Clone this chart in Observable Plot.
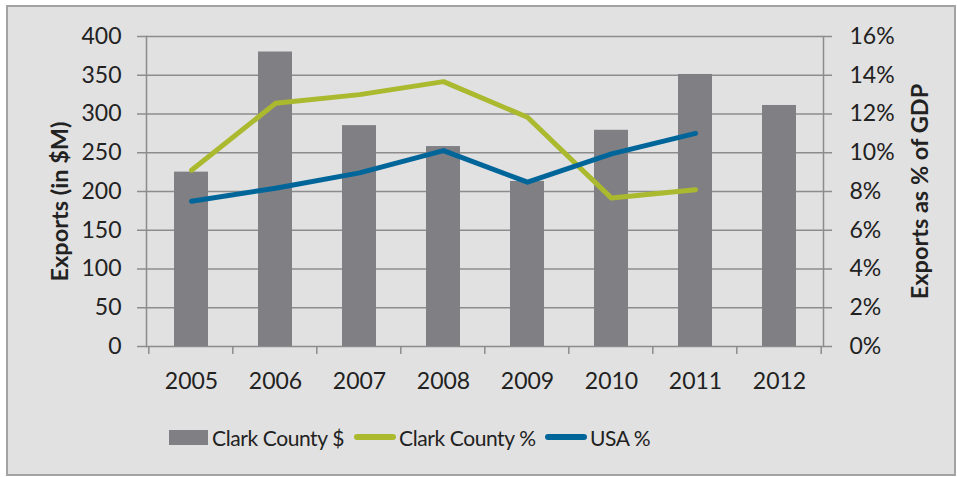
<!DOCTYPE html>
<html>
<head>
<meta charset="utf-8">
<script src="https://cdn.jsdelivr.net/npm/d3@7"></script>
<script src="https://cdn.jsdelivr.net/npm/@observablehq/plot@0.6"></script>
<style>
  html, body { margin: 0; padding: 0; background: #ffffff; }
  #box {
    position: absolute; left: 6px; top: 5px; width: 950px; height: 471px;
    box-sizing: border-box; border: 2px solid #a3a3a3; background: #e1e1e1;
    font-family: Lato, "Open Sans", sans-serif; color: #222;
  }
  #chart { position: absolute; left: 0; top: 0; }
  .leg { position: absolute; top: 416px; height: 28px; display: flex; align-items: center; font-size: 21px; letter-spacing: -0.4px; white-space: nowrap; }
  .sw-bar { width: 39px; height: 15px; background: #807f84; margin-right: 4px; }
  .sw-line { width: 42px; height: 6px; border-radius: 3px; margin-right: 3px; }
</style>
</head>
<body>
<div id="box">
  <div id="chart"></div>
  <div class="leg" style="left:161px"><div class="sw-bar"></div><span>Clark County $</span></div>
  <div class="leg" style="left:346px"><div class="sw-line" style="background:#aab92e"></div><span>Clark County %</span></div>
  <div class="leg" style="left:537px"><div class="sw-line" style="background:#00669a"></div><span>USA %</span></div>
</div>
<script>
const years = ["2005", "2006", "2007", "2008", "2009", "2010", "2011", "2012"];
const clarkDollars = [225, 380, 285, 258, 213, 279, 351, 311];
const clarkPctYears = ["2005", "2006", "2007", "2008", "2009", "2010", "2011"];
const clarkPct = [9.1, 12.55, 13.0, 13.67, 11.83, 7.66, 8.09];
const usaPctYears = ["2005", "2006", "2007", "2008", "2009", "2010", "2011"];
const usaPct = [7.5, 8.17, 8.96, 10.11, 8.48, 9.94, 11.0];
const leftTicks = [0, 50, 100, 150, 200, 250, 300, 350, 400];
const pctPerDollarTick = 16 / 400; // right axis: 400 ↔ 16%

const bars = years.map((y, i) => ({year: y, value: clarkDollars[i]}));
const clarkLine = clarkPctYears.map((y, i) => ({year: y, pct: clarkPct[i]}));
const usaLine = usaPctYears.map((y, i) => ({year: y, pct: usaPct[i]}));

const font = "Lato, 'Open Sans', sans-serif";
const gridColor = "#8c8c8c";

// tick marks at category boundaries on the bottom axis
function categoryBoundaryTicks(index, scales, values, dims) {
  const x = scales.x;
  const step = x.step();
  const half = step * x.paddingInner() / 2;
  const yb = dims.height - dims.marginBottom;
  const xs = years.map(y => x(y) - half);
  xs.push(x(years[years.length - 1]) + x.bandwidth() + half);
  const g = d3.create("svg:g");
  for (const xv of xs) {
    g.append("line").attr("x1", xv).attr("x2", xv).attr("y1", yb).attr("y2", yb + 8)
      .attr("stroke", gridColor).attr("stroke-width", 1.5);
  }
  return g.node();
}

const chart = Plot.plot({
  width: 946,
  height: 390,
  marginLeft: 138,
  marginRight: 131,
  marginTop: 29,
  marginBottom: 51,
  style: {background: "transparent", fontFamily: font, color: "#222"},
  x: {domain: years, paddingInner: 0.6, paddingOuter: 0.3, label: null},
  y: {domain: [0, 400], label: null},
  marks: [
    Plot.ruleY(leftTicks, {stroke: gridColor, strokeWidth: 1.5}),
    Plot.frame({anchor: "left", stroke: gridColor, strokeWidth: 1.5}),
    Plot.frame({anchor: "right", stroke: gridColor, strokeWidth: 1.5}),
    Plot.barY(bars, {x: "year", y: "value", fill: "#807f84"}),
    Plot.line(clarkLine, {x: "year", y: d => d.pct / pctPerDollarTick, stroke: "#aab92e", strokeWidth: 5, strokeLinecap: "round", strokeLinejoin: "round"}),
    Plot.line(usaLine, {x: "year", y: d => d.pct / pctPerDollarTick, stroke: "#00669a", strokeWidth: 5, strokeLinecap: "round", strokeLinejoin: "round"}),
    Plot.axisX({anchor: "bottom", tickSize: 0, tickPadding: 26, fontSize: 23, label: null}),
    categoryBoundaryTicks,
    Plot.axisY({anchor: "left", ticks: leftTicks, tickSize: 9, tickPadding: 16, fontSize: 23, stroke: gridColor, strokeWidth: 1.5, label: null}),
    Plot.axisY({anchor: "right", ticks: leftTicks, tickSize: 8, tickPadding: 18, fontSize: 23, stroke: gridColor, strokeWidth: 1.5,
      tickFormat: v => `${Math.round(v * pctPerDollarTick)}%`, label: null}),
    Plot.text(["Exports (in $M)"], {frameAnchor: "left", textAnchor: "middle", rotate: -90, dx: -86, dy: 10, fontSize: 23.5, fontWeight: "bold", fill: "#222"}),
    Plot.text(["Exports as % of GDP"], {frameAnchor: "right", textAnchor: "middle", rotate: -90, dx: 97, dy: 0, fontSize: 23.5, fontWeight: "bold", fill: "#222"})
  ]
});
document.getElementById("chart").append(chart);
</script>
</body>
</html>
